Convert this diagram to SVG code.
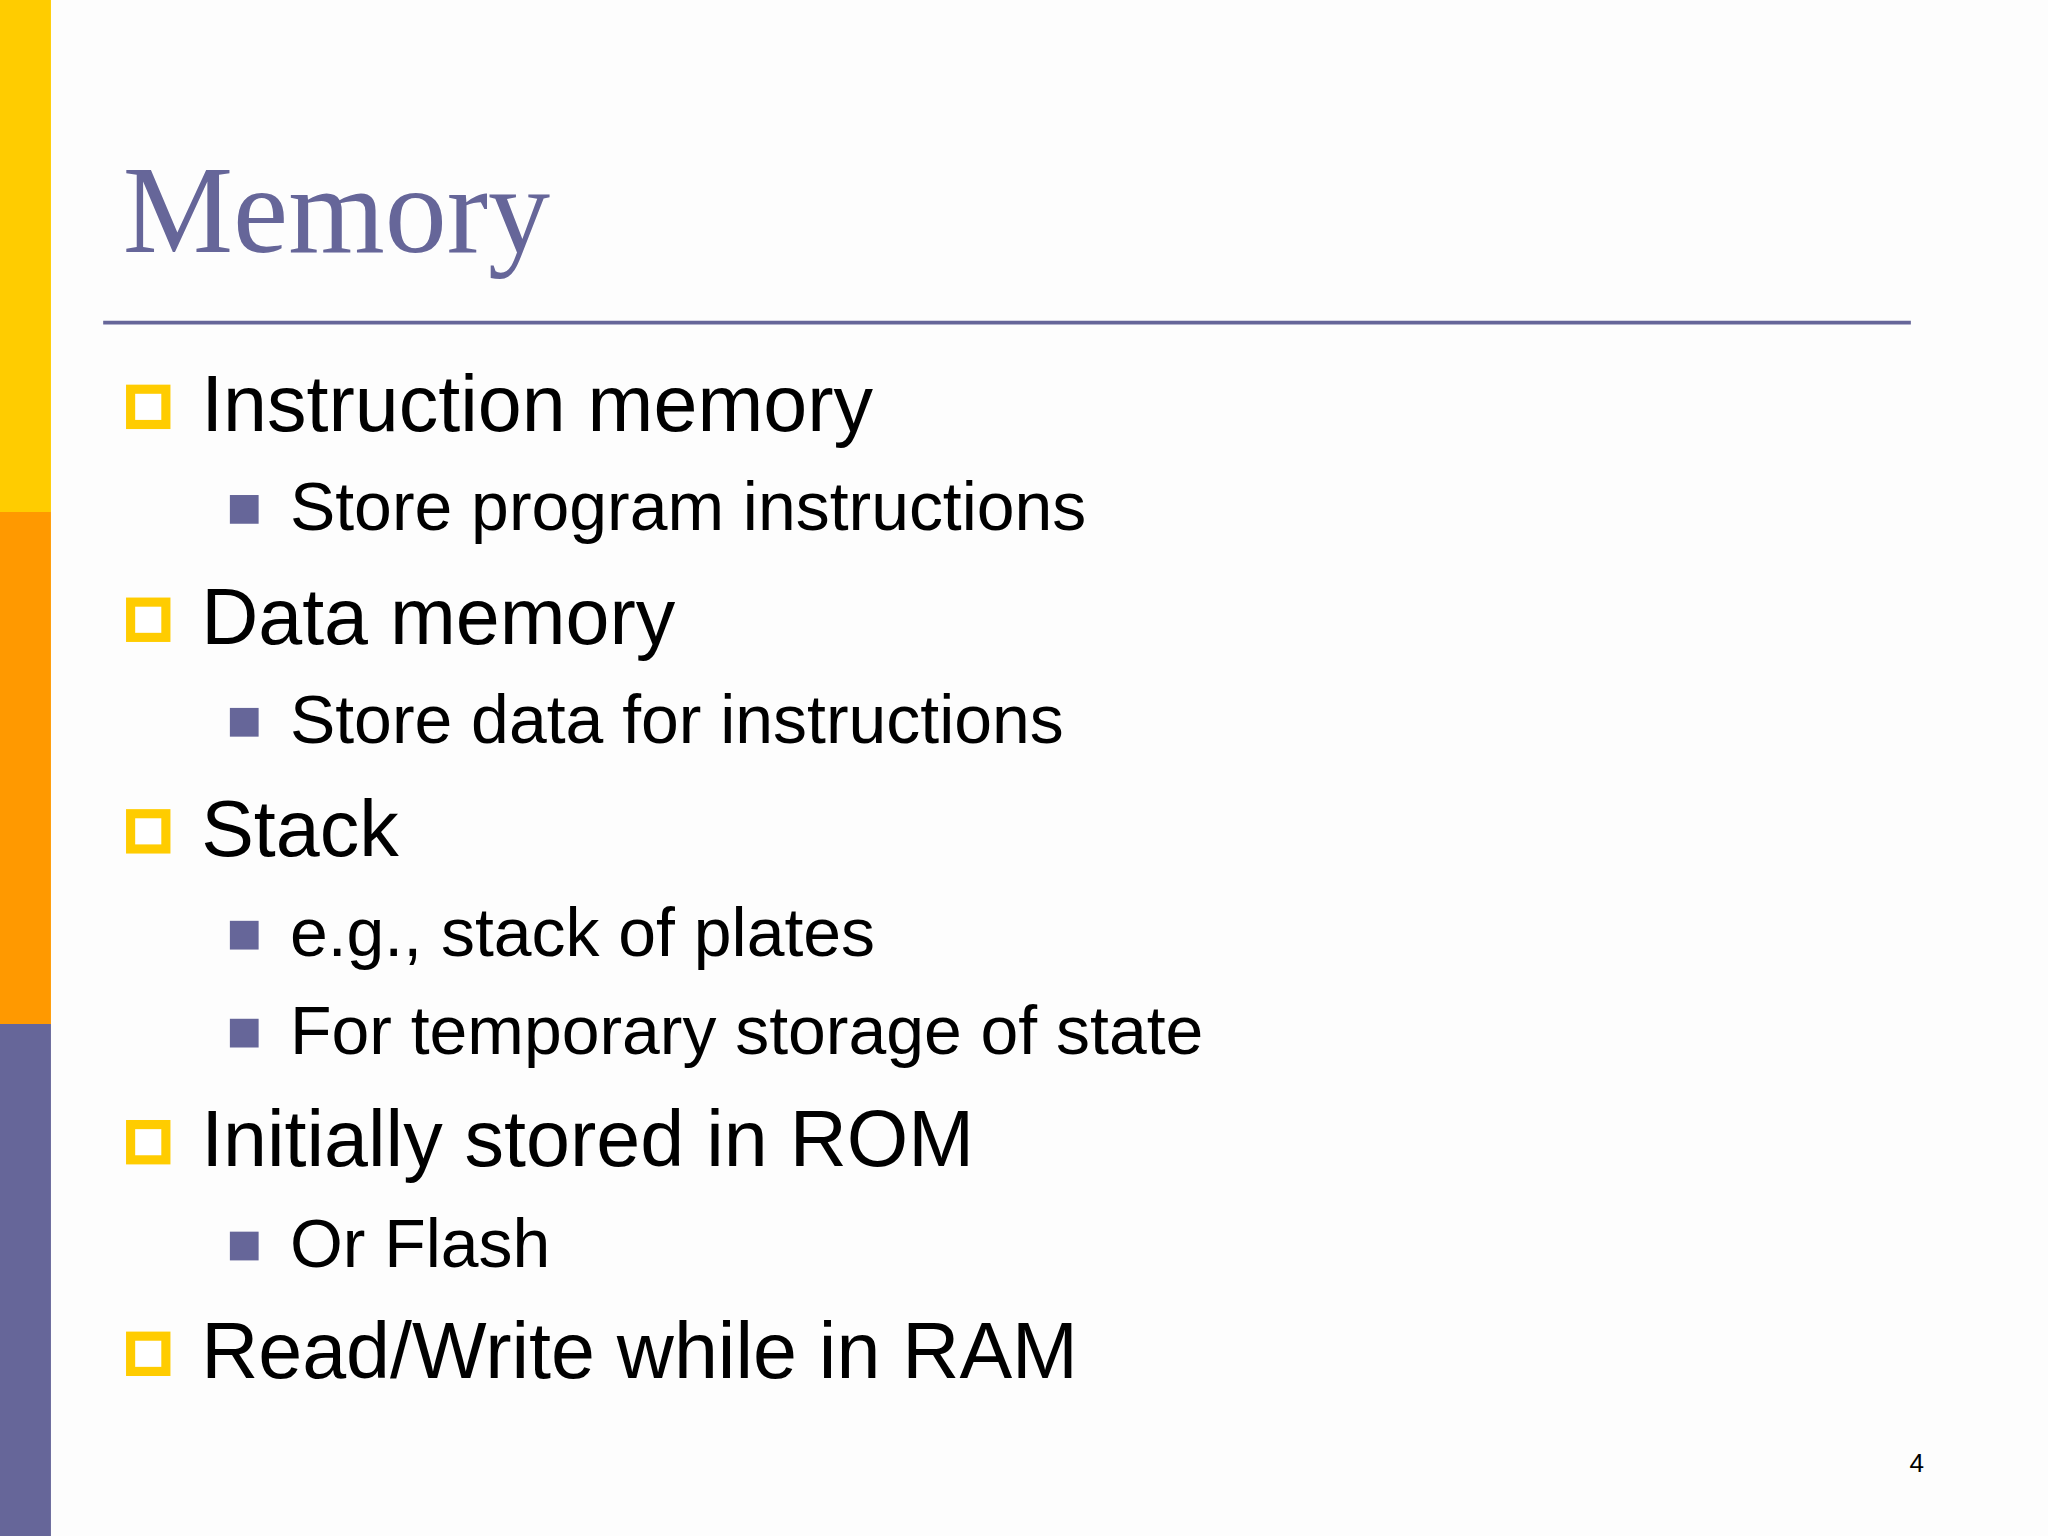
<svg xmlns="http://www.w3.org/2000/svg" width="2048" height="1536" viewBox="0 0 2048 1536">
<style>
.l1{font-family:"Liberation Sans",Arial,sans-serif;font-size:60.5px;fill:#000}
.l2{font-family:"Liberation Sans",Arial,sans-serif;font-size:52px;fill:#000}
.b1{fill:#fff;stroke:#FFCC00;stroke-width:7}
.b2{fill:#666699}
</style>
<rect width="2048" height="1536" fill="#FDFDFD"/>
<g transform="scale(1.30612)">
<g id="sidebar">
<rect x="0" y="0" width="39" height="392" fill="#FFCC00"/>
<rect x="0" y="392" width="39" height="392" fill="#FF9900"/>
<rect x="0" y="784" width="39" height="392" fill="#666699"/>
</g>
<g id="title">
<text x="94" y="193" font-family="Liberation Serif,Times New Roman,serif" font-size="95" fill="#666699">Memory</text>
<line x1="79" y1="247" x2="1463" y2="247" stroke="#666699" stroke-width="3"/>
</g>
<g id="bullets">
<rect class="b1" x="100" y="298" width="27" height="27"/><text class="l1" x="154" y="330">Instruction memory</text>
<rect class="b2" x="176" y="379" width="22" height="22"/><text class="l2" x="222" y="406">Store program instructions</text>
<rect class="b1" x="100" y="461" width="27" height="27"/><text class="l1" x="154" y="493">Data memory</text>
<rect class="b2" x="176" y="542" width="22" height="22"/><text class="l2" x="222" y="569">Store data for instructions</text>
<rect class="b1" x="100" y="623" width="27" height="27"/><text class="l1" x="154" y="655">Stack</text>
<rect class="b2" x="176" y="705" width="22" height="22"/><text class="l2" x="222" y="732">e.g., stack of plates</text>
<rect class="b2" x="176" y="780" width="22" height="22"/><text class="l2" x="222" y="807">For temporary storage of state</text>
<rect class="b1" x="100" y="861" width="27" height="27"/><text class="l1" x="154" y="893">Initially stored in ROM</text>
<rect class="b2" x="176" y="943" width="22" height="22"/><text class="l2" x="222" y="970">Or Flash</text>
<rect class="b1" x="100" y="1023" width="27" height="27"/><text class="l1" x="154" y="1055">Read/Write while in RAM</text>
</g>
<text x="1462" y="1127" font-family="Liberation Sans,Arial,sans-serif" font-size="20" fill="#000">4</text>
</g>
</svg>
